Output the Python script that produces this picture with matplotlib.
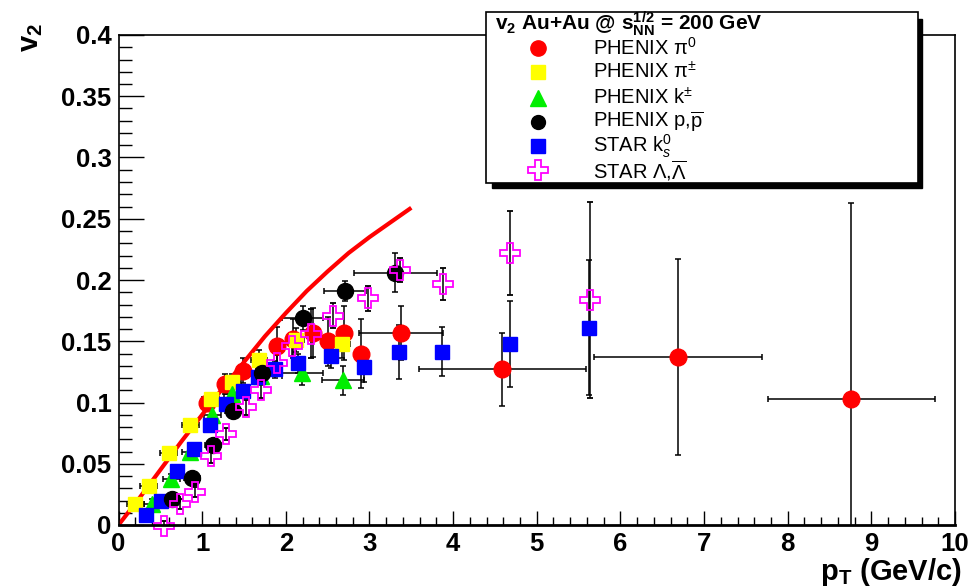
import numpy as np
import matplotlib
matplotlib.use('Agg')
import matplotlib.pyplot as plt
from matplotlib.patches import Rectangle
from matplotlib.lines import Line2D

plt.rcParams['font.family'] = ['Liberation Sans', 'DejaVu Sans']
plt.rcParams['mathtext.fontset'] = 'custom'
plt.rcParams['mathtext.rm'] = 'Liberation Sans'
plt.rcParams['mathtext.it'] = 'Liberation Sans:italic'
plt.rcParams['mathtext.bf'] = 'Liberation Sans:bold'

# PHENIX pi0
pt_pi0 = [1.06, 1.27, 1.49, 1.89, 2.09, 2.32, 2.50, 2.70, 2.90, 3.38, 4.59, 6.69, 8.76]
v2_pi0 = [0.100, 0.115, 0.126, 0.146, 0.152, 0.157, 0.150, 0.157, 0.140, 0.157, 0.127, 0.137, 0.103]
ex_pi0 = [0, 0, 0, 0, 0, 0, 0, 0, 0, 0.5, 1.0, 1.0, 1.0]
ey_pi0 = [0.006, 0.008, 0.010, 0.016, 0.016, 0.020, 0.020, 0.022, 0.028, 0.022, 0.030, 0.080, 0.160]

# PHENIX pi+-
pt_pich = [0.20, 0.36, 0.60, 0.86, 1.10, 1.36, 1.68, 2.12, 2.67]
v2_pich = [0.017, 0.032, 0.059, 0.082, 0.103, 0.117, 0.135, 0.151, 0.148]
ex_pich = [0.1, 0.1, 0.1, 0.1, 0.1, 0.1, 0.1, 0.1, 0.1]
ey_pich = [0.003, 0.003, 0.004, 0.004, 0.005, 0.006, 0.008, 0.010, 0.012]

# PHENIX k+-
pt_kch = [0.40, 0.63, 0.86, 1.12, 1.36, 1.70, 2.19, 2.68]
v2_kch = [0.017, 0.0375, 0.060, 0.090, 0.107, 0.122, 0.124, 0.118]
ex_kch = [0.1, 0.1, 0.1, 0.1, 0.1, 0.25, 0.25, 0.25]
ey_kch = [0.004, 0.004, 0.005, 0.006, 0.007, 0.008, 0.010, 0.012]

# PHENIX p, pbar
pt_p = [0.64, 0.88, 1.13, 1.37, 1.71, 2.20, 2.71, 3.31]
v2_p = [0.021, 0.038, 0.065, 0.093, 0.124, 0.169, 0.191, 0.206]
ex_p = [0.1, 0.1, 0.1, 0.1, 0.25, 0.25, 0.25, 0.5]
ey_p = [0.003, 0.004, 0.005, 0.006, 0.008, 0.010, 0.008, 0.016]

# STAR k0s
pt_k0 = [0.33, 0.51, 0.70, 0.90, 1.09, 1.29, 1.49, 1.67, 1.87, 2.14, 2.54, 2.93, 3.35, 3.87, 4.68, 5.62]
v2_k0 = [0.008, 0.020, 0.044, 0.062, 0.082, 0.099, 0.109, 0.121, 0.127, 0.132, 0.138, 0.129, 0.141, 0.1415, 0.148, 0.161]
ey_k0 = [0.002, 0.002, 0.003, 0.003, 0.004, 0.004, 0.005, 0.006, 0.007, 0.008, 0.010, 0.012, 0.022, 0.020, 0.035, 0.055]

# STAR Lambda
pt_lam = [0.54, 0.74, 0.91, 1.11, 1.29, 1.52, 1.70, 1.89, 2.08, 2.30, 2.57, 2.98, 3.37, 3.88, 4.68, 5.64]
v2_lam = [-0.001, 0.017, 0.027, 0.056, 0.074, 0.096, 0.110, 0.132, 0.146, 0.156, 0.171, 0.185, 0.208, 0.197, 0.222, 0.184]
ey_lam = [0.004, 0.004, 0.004, 0.005, 0.005, 0.006, 0.006, 0.007, 0.008, 0.020, 0.010, 0.010, 0.010, 0.013, 0.034, 0.080]

# hydro curve
pt_hydro = [0.0, 0.25, 0.5, 0.75, 1.0, 1.25, 1.5, 1.75, 2.0, 2.25, 2.5, 2.75, 3.0, 3.25, 3.48]
v2_hydro = [0.0, 0.022, 0.045, 0.068, 0.090, 0.112, 0.133, 0.154, 0.173, 0.191, 0.207, 0.222, 0.235, 0.247, 0.258]

fig = plt.figure(figsize=(9.8, 5.87), dpi=100)
ax = fig.add_axes([118.5 / 980, 1 - 525 / 587, (955 - 118.5) / 980, (525 - 35) / 587])

eb = dict(ecolor='black', elinewidth=1.1, capsize=2.5, capthick=1.1, linestyle='none')

ax.errorbar(pt_pi0, v2_pi0, xerr=ex_pi0, yerr=ey_pi0, marker='o', ms=12,
            mfc='red', mec='red', **eb)
ax.errorbar(pt_pich, v2_pich, xerr=ex_pich, yerr=ey_pich, marker='s', ms=10,
            mfc='yellow', mec='yellow', **eb)
ax.errorbar(pt_kch, v2_kch, xerr=ex_kch, yerr=ey_kch, marker='^', ms=11,
            mfc='#00ee00', mec='#00ee00', **eb)
ax.errorbar(pt_k0, v2_k0, yerr=ey_k0, marker='s', ms=10,
            mfc='blue', mec='blue', **eb)
ax.errorbar(pt_p, v2_p, xerr=ex_p, yerr=ey_p, marker='o', ms=11.5,
            mfc='black', mec='black', **eb)
c = ax.errorbar(pt_lam, v2_lam, yerr=ey_lam, marker='P', ms=15,
                mfc='none', mec='magenta', mew=1.3, **eb)
c[0].set_clip_on(False)

ax.plot(pt_hydro, v2_hydro, color='red', lw=3)

ax.set_xlim(0, 10)
ax.set_ylim(0, 0.4)
ax.set_xticks(np.arange(0, 11, 1))
ax.set_xticklabels([str(i) for i in range(11)])
ax.set_xticks(np.arange(0, 10.01, 0.2), minor=True)
ax.set_yticks(np.arange(0, 0.401, 0.05))
ax.set_yticklabels(['0', '0.05', '0.1', '0.15', '0.2', '0.25', '0.3', '0.35', '0.4'])
ax.set_yticks(np.arange(0, 0.401, 0.01), minor=True)
ax.tick_params(axis='both', which='both', direction='in', top=False, right=False,
               labelsize=18.5, width=1.0)
ax.tick_params(axis='x', which='major', length=10, pad=5)
ax.tick_params(axis='x', which='minor', length=6)
ax.tick_params(axis='y', which='major', length=18, pad=5)
ax.tick_params(axis='y', which='minor', length=9)
for lab in ax.get_xticklabels() + ax.get_yticklabels():
    lab.set_fontweight('bold')
for s in ax.spines.values():
    s.set_linewidth(1.2)
ax.spines['bottom'].set_linewidth(2)

fig.text(31 / 980, 1 - 38 / 587, r'$\mathbf{v_{2}}$', rotation=90, fontsize=21,
         ha='center', va='center')
fig.text(962 / 980, 1 - 572 / 587, r'$\mathbf{p_{T}}$ (GeV/c)', fontsize=21,
         fontweight='bold', ha='right', va='center')

# legend box with shadow
fig.add_artist(Rectangle((491.5 / 980, 1 - 187.5 / 587), 430 / 980, 169 / 587,
                         transform=fig.transFigure, facecolor='black', edgecolor='black'))
fig.add_artist(Rectangle((485.5 / 980, 1 - 183 / 587), 432 / 980, 171 / 587,
                         transform=fig.transFigure, facecolor='white', edgecolor='black', lw=1.2))
fig.text(495 / 980, 1 - 24 / 587,
         r'$\mathbf{v_{2}}$ Au+Au @ $\mathbf{s_{NN}^{1/2}}$ = 200 GeV',
         fontsize=15, fontweight='bold', ha='left', va='center')

leg_labels = ['PHENIX π$^{0}$', 'PHENIX π$^{\\pm}$', 'PHENIX k$^{\\pm}$',
              'PHENIX p,$\\overline{\\mathrm{p}}$', 'STAR $\\mathrm{k}_{s}^{0}$',
              'STAR Λ,$\\overline{\\Lambda}$']
leg_styles = [dict(marker='o', ms=11, mfc='red', mec='red'),
              dict(marker='s', ms=10, mfc='yellow', mec='yellow'),
              dict(marker='^', ms=11, mfc='#00ee00', mec='#00ee00'),
              dict(marker='o', ms=10, mfc='black', mec='black'),
              dict(marker='s', ms=10, mfc='blue', mec='blue'),
              dict(marker='P', ms=14, mfc='white', mec='magenta', mew=1.3)]
leg_y = [48, 72, 97.5, 122, 146, 170.5]
for lab, sty, yy in zip(leg_labels, leg_styles, leg_y):
    yf = 1 - yy / 587
    fig.add_artist(Line2D([538 / 980], [yf], transform=fig.transFigure, linestyle='none', **sty))
    fig.text(593 / 980, yf, lab, fontsize=14.5, ha='left', va='center')

fig.savefig('out.png', dpi=100)
